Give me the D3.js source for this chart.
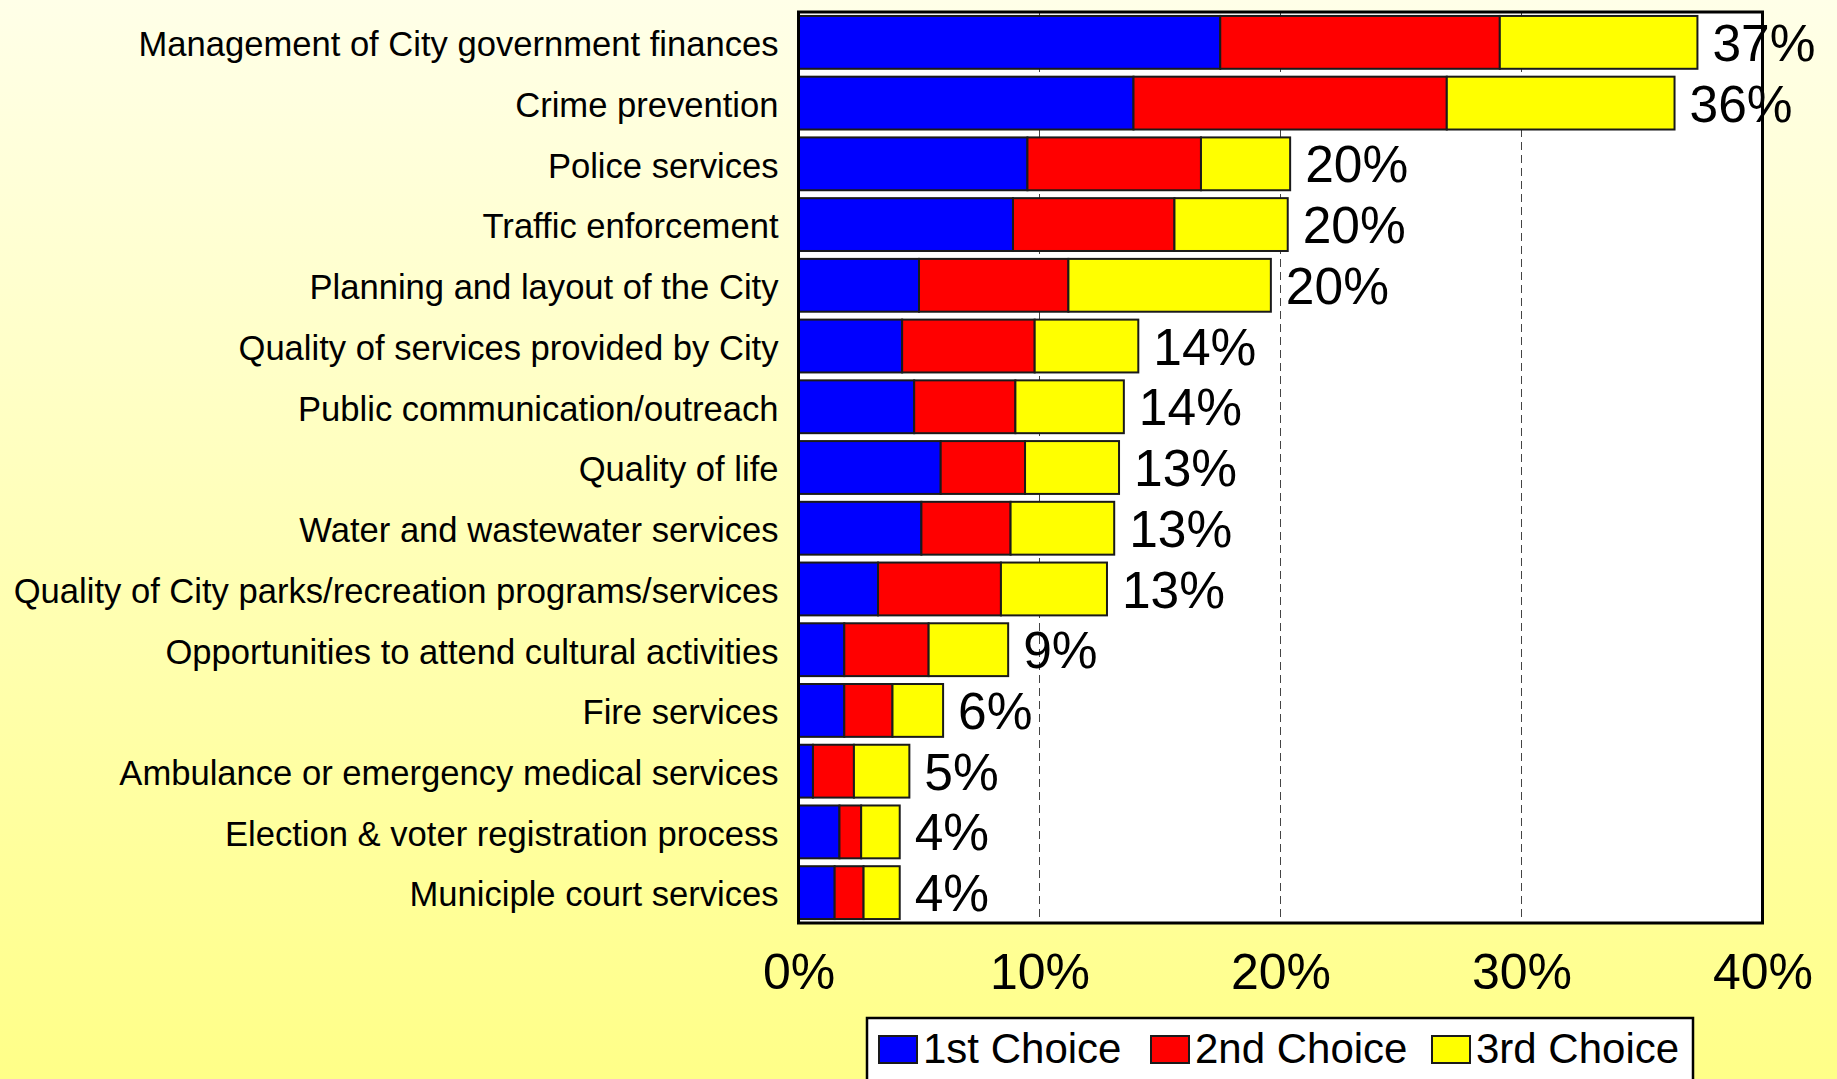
<!DOCTYPE html>
<html>
<head>
<meta charset="utf-8">
<script src="https://cdn.jsdelivr.net/npm/d3@7"></script>
<style>
  html, body { margin: 0; padding: 0; overflow: hidden; }
  svg { display: block; font-family: "Liberation Sans", Arial, sans-serif; }
</style>
</head>
<body>
<script>
const categories = [
  "Management of City government finances",
  "Crime prevention",
  "Police services",
  "Traffic enforcement",
  "Planning and layout of the City",
  "Quality of services provided by City",
  "Public communication/outreach",
  "Quality of life",
  "Water and wastewater services",
  "Quality of City parks/recreation programs/services",
  "Opportunities to attend cultural activities",
  "Fire services",
  "Ambulance or emergency medical services",
  "Election & voter registration process",
  "Municiple court services"
];
const firstChoice  = [17.5, 13.9, 9.5, 8.9, 5.0, 4.3, 4.8, 5.9, 5.1, 3.3, 1.9, 1.9, 0.6, 1.7, 1.5];
const secondChoice = [11.6, 13.0, 7.2, 6.7, 6.2, 5.5, 4.2, 3.5, 3.7, 5.1, 3.5, 2.0, 1.7, 0.9, 1.2];
const thirdChoice  = [8.2,  9.45, 3.7, 4.7, 8.4, 4.3, 4.5, 3.9, 4.3, 4.4, 3.3, 2.1, 2.3, 1.6, 1.5];
const totalLabels  = ["37%", "36%", "20%", "20%", "20%", "14%", "14%", "13%", "13%", "13%", "9%", "6%", "5%", "4%", "4%"];
const seriesNames  = ["1st Choice", "2nd Choice", "3rd Choice"];
const seriesColors = ["#0000FF", "#FF0000", "#FFFF00"];
const xTicks = [0, 10, 20, 30, 40];

(function () {
const W = 1837, H = 1079;
const svg = d3.select("body").append("svg").attr("width", W).attr("height", H);

const defs = svg.append("defs");
const grad = defs.append("linearGradient").attr("id", "bg").attr("x1", 0).attr("y1", 0).attr("x2", 0).attr("y2", 1);
grad.append("stop").attr("offset", "0%").attr("stop-color", "#FFFFE8");
grad.append("stop").attr("offset", "100%").attr("stop-color", "#FFFF88");
svg.append("rect").attr("width", W).attr("height", H).attr("fill", "url(#bg)");

const pL = 798.5, pR = 1762.5, pT = 12, pB = 923;
const x = d3.scaleLinear().domain([0, 40]).range([pL, pR]);
const y = d3.scaleBand().domain(categories).range([pT, pB]).paddingInner(0.13).paddingOuter(0.065);

// plot background
svg.append("rect").attr("x", pL).attr("y", pT).attr("width", pR - pL).attr("height", pB - pT).attr("fill", "#fff");

// gridlines
svg.append("g").selectAll("line").data(xTicks.filter(t => t > 0 && t < 40)).join("line")
  .attr("x1", d => x(d)).attr("x2", d => x(d))
  .attr("y1", pT).attr("y2", pB)
  .attr("stroke", "#444").attr("stroke-width", 1).attr("stroke-dasharray", "8,5");

// stacked data
const rows = categories.map((c, i) => ({cat: c, s0: firstChoice[i], s1: secondChoice[i], s2: thirdChoice[i], label: totalLabels[i]}));
const stack = d3.stack().keys(["s0", "s1", "s2"])(rows);

const gBars = svg.append("g");
stack.forEach((layer, li) => {
  gBars.append("g").selectAll("rect").data(layer).join("rect")
    .attr("x", d => x(d[0]))
    .attr("y", d => y(d.data.cat))
    .attr("width", d => x(d[1]) - x(d[0]))
    .attr("height", y.bandwidth())
    .attr("fill", seriesColors[li])
    .attr("stroke", "#1a1a1a")
    .attr("stroke-width", 2);
});

// total labels
svg.append("g").selectAll("text").data(rows).join("text")
  .attr("x", d => x(d.s0 + d.s1 + d.s2) + 15)
  .attr("y", d => y(d.cat) + y.bandwidth() / 2)
  .attr("dy", "0.36em")
  .attr("font-size", 51.5)
  .attr("fill", "#000")
  .text(d => d.label);

// plot border
svg.append("rect").attr("x", pL).attr("y", pT).attr("width", pR - pL).attr("height", pB - pT)
  .attr("fill", "none").attr("stroke", "#000").attr("stroke-width", 3);

// category axis
const yAxis = d3.axisLeft(y).tickSize(0).tickPadding(20);
const gy = svg.append("g").attr("transform", `translate(${pL},0)`).call(yAxis);
gy.select(".domain").remove();
gy.selectAll("text").attr("font-size", 34.6).attr("dy", "0.4em").attr("fill", "#000").attr("font-family", "Liberation Sans, Arial, sans-serif");

// x axis
const xAxis = d3.axisBottom(x).tickValues(xTicks).tickSize(0).tickPadding(30).tickFormat(d => d + "%");
const gx = svg.append("g").attr("transform", `translate(0,${pB})`).call(xAxis);
gx.select(".domain").remove();
gx.selectAll("text").attr("font-size", 50).attr("fill", "#000").attr("font-family", "Liberation Sans, Arial, sans-serif");

// legend
const lg = svg.append("g");
lg.append("rect").attr("x", 867).attr("y", 1018).attr("width", 826).attr("height", 80)
  .attr("fill", "#fff").attr("stroke", "#000").attr("stroke-width", 2.5);
const legendX = [879, 1151, 1432];
seriesNames.forEach((n, i) => {
  lg.append("rect").attr("x", legendX[i]).attr("y", 1036).attr("width", 38).attr("height", 27)
    .attr("fill", seriesColors[i]).attr("stroke", "#1a1a1a").attr("stroke-width", 2);
  lg.append("text").attr("x", legendX[i] + 44).attr("y", 1063).attr("font-size", 42).attr("fill", "#000").text(n);
});
})();
</script>
</body>
</html>
